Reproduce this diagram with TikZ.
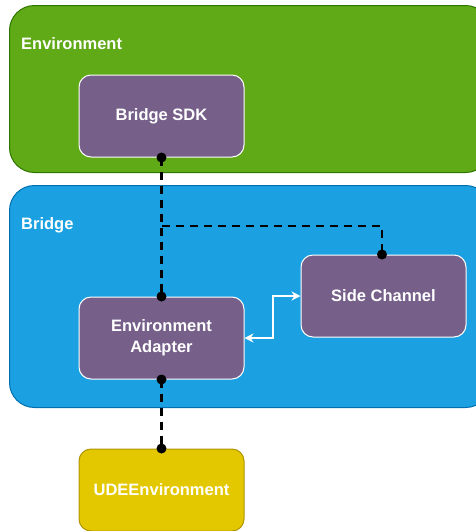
\documentclass[tikz,border=0pt]{standalone}
\usepackage{fontspec}
\setmainfont{Liberation Sans}
\usetikzlibrary{arrows.meta}
\definecolor{envgreen}{HTML}{60A917}
\definecolor{envgreenline}{HTML}{2D7600}
\definecolor{brblue}{HTML}{1BA1E2}
\definecolor{brblueline}{HTML}{006EAF}
\definecolor{compurple}{HTML}{76608A}
\definecolor{udeyellow}{HTML}{E3C800}
\definecolor{udeyellowline}{HTML}{B09500}
\tikzset{
  container/.style={draw, line width=1pt, rounded corners=25pt, minimum width=481pt, anchor=north west, inner sep=0pt},
  contlabel/.style={anchor=base west, text=white, font=\fontsize{16.5}{20}\selectfont\bfseries, inner sep=0pt},
  comp/.style={draw=white, fill=compurple, line width=1pt, rounded corners=12pt, minimum width=165pt, minimum height=82pt, text=white, align=center, font=\fontsize{16.5}{21}\selectfont\bfseries},
  udebox/.style={comp, draw=udeyellowline, fill=udeyellow},
  dashlink/.style={draw=black, line width=2.6pt, dash pattern=on 8pt off 6pt},
  enddot/.style={fill=black, circle, inner sep=0pt, minimum size=10pt},
  duplex/.style={draw=white, line width=1.2pt, {Stealth[length=9pt,width=9pt]}-{Stealth[length=9pt,width=9pt]}}
}
\begin{document}
\begin{tikzpicture}[x=1pt,y=-1pt]
\useasboundingbox (0,0) rectangle (476,531);
\clip (0,0) rectangle (476,531);
\node[container, fill=envgreen, draw=envgreenline, minimum height=167pt] (envbox) at (9,5) {};
\node[contlabel] (envlabel) at (21,49) {Environment};
\node[container, fill=brblue, draw=brblueline, minimum height=222pt] (bridgebox) at (9,185) {};
\node[contlabel] (bridgelabel) at (21,229) {Bridge};
\node[comp] (sdk) at (161.5,116) {Bridge SDK};
\node[comp] (adapter) at (161.5,338) {Environment\\Adapter};
\node[comp] (side) at (383.5,296) {Side Channel};
\node[udebox] (ude) at (161.5,490) {UDEEnvironment};
\coordinate (junction) at (161.5,226);
\coordinate (corner) at (382,226);
\draw[dashlink] (sdk.south) -- (adapter.north);
\draw[dashlink] (junction) -- (corner) -- (side.north -| corner);
\draw[dashlink] (adapter.south) -- (ude.north);
\coordinate (elbowlow) at (273,338);
\coordinate (elbowhigh) at (273,296);
\draw[duplex] (adapter.east) -- (elbowlow) -- (elbowhigh) -- (side.west);
\node[enddot] (d1) at (sdk.south) {};
\node[enddot] (d2) at (adapter.north) {};
\node[enddot] (d3) at (side.north -| corner) {};
\node[enddot] (d4) at (adapter.south) {};
\node[enddot] (d5) at (ude.north) {};
\end{tikzpicture}
\end{document}
